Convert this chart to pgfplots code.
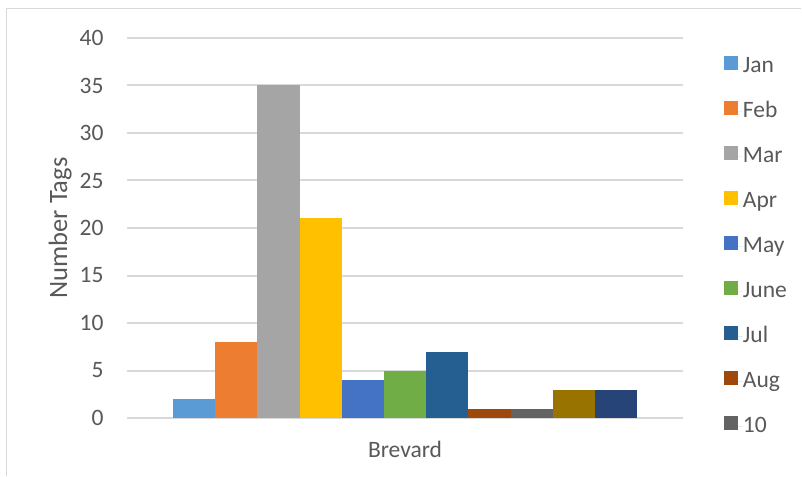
\documentclass[border=0pt]{standalone}
\usepackage{pgfplots}
\pgfplotsset{compat=1.18}
\usepackage{fontspec}
\setmainfont{Carlito}
\definecolor{txt}{HTML}{595959}
\definecolor{gridgray}{HTML}{D9D9D9}
\definecolor{cJan}{HTML}{5B9BD5}
\definecolor{cFeb}{HTML}{ED7D31}
\definecolor{cMar}{HTML}{A5A5A5}
\definecolor{cApr}{HTML}{FFC000}
\definecolor{cMay}{HTML}{4472C4}
\definecolor{cJun}{HTML}{70AD47}
\definecolor{cJul}{HTML}{255E91}
\definecolor{cAug}{HTML}{9E480E}
\definecolor{cTen}{HTML}{636363}
\definecolor{cEle}{HTML}{997300}
\definecolor{cTwe}{HTML}{264478}
\begin{document}
\begin{tikzpicture}[x=1pt,y=1pt]
% canvas and chart frame
\fill[white] (0,0) rectangle (802,476);
\draw[gridgray,line width=1.5pt] (6.5,0) -- (6.5,467.5) -- (801,467.5);
\begin{axis}[
  at={(127pt,58pt)}, anchor=south west,
  scale only axis, width=556pt, height=380pt,
  xmin=-0.5, xmax=0.5, ymin=0, ymax=40,
  ybar=0pt, bar width=42.2pt,
  axis line style={draw=none},
  xtick={0}, xticklabels={Brevard},
  ytick={0,5,...,40},
  ymajorgrids, grid style={gridgray,line width=2pt},
  major tick length=0pt,
  tick label style={font=\fontsize{23.5}{28}\selectfont, text=txt},
  /pgf/number format/assume math mode=true,
  yticklabel style={xshift=-20pt},
  xticklabel style={yshift=-20pt},
  ylabel={Number Tags},
  ylabel style={font=\fontsize{26.5}{30}\selectfont, text=txt, yshift=1pt},
  legend cell align=left,
  legend image code/.code={\fill[#1] (0pt,-3.5pt) rectangle (14pt,10.5pt);
    \path (0pt,0pt) -- (19pt,0pt);},
  legend style={draw=none, fill=none, at={(1.0737,0.9526)}, anchor=north west,
    font=\fontsize{23.5}{28}\selectfont, text=txt,
    inner sep=0pt, outer sep=0pt,
    row sep=24pt,
    nodes={inner sep=0pt, text height=16pt, text depth=5pt}},
  every axis plot/.append style={draw=none},
]
\addplot[fill=cJan] coordinates {(0,2)};  \addlegendentry{Jan}
\addplot[fill=cFeb] coordinates {(0,8)};  \addlegendentry{Feb}
\addplot[fill=cMar] coordinates {(0,35)}; \addlegendentry{Mar}
\addplot[fill=cApr] coordinates {(0,21)}; \addlegendentry{Apr}
\addplot[fill=cMay] coordinates {(0,4)};  \addlegendentry{May}
\addplot[fill=cJun] coordinates {(0,5)};  \addlegendentry{June}
\addplot[fill=cJul] coordinates {(0,7)};  \addlegendentry{Jul}
\addplot[fill=cAug] coordinates {(0,1)};  \addlegendentry{Aug}
\addplot[fill=cTen] coordinates {(0,1)};  \addlegendentry{10}
\addplot[fill=cEle] coordinates {(0,3)};
\addplot[fill=cTwe] coordinates {(0,3)};
\end{axis}
\end{tikzpicture}
\end{document}
